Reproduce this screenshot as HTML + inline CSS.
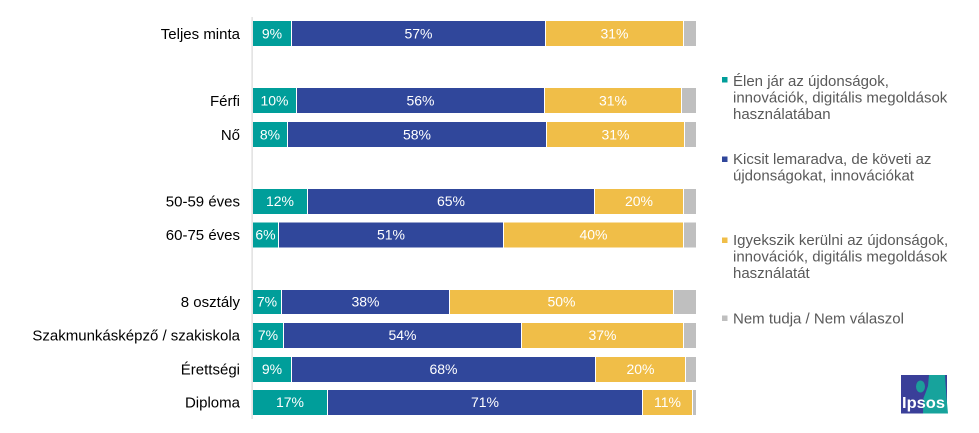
<!DOCTYPE html>
<html>
<head>
<meta charset="utf-8">
<style>
  html, body { margin: 0; padding: 0; background: #ffffff; }
  body { width: 979px; height: 433px; overflow: hidden; }
  svg { display: block; }
  .cat { font-family: "Liberation Sans", Arial, sans-serif; font-size: 15px; fill: #000000; }
  .val { font-family: "Liberation Sans", Arial, sans-serif; font-size: 14px; fill: #ffffff; }
  .leg { font-family: "Liberation Sans", Arial, sans-serif; font-size: 15px; fill: #595959; }
</style>
</head>
<body>
<svg width="979" height="433" viewBox="0 0 979 433" xmlns="http://www.w3.org/2000/svg">
  <rect x="0" y="0" width="979" height="433" fill="#ffffff"/>

  <!-- axis line -->
  <rect x="251.5" y="17" width="1.2" height="402" fill="#d9d9d9"/>

  <!-- Row 0: Teljes minta -->
  <g>
    <rect x="253" y="21" width="38" height="25" fill="#009e9a"/>
    <rect x="292" y="21" width="253" height="25" fill="#30479b"/>
    <rect x="546" y="21" width="137" height="25" fill="#f0be48"/>
    <rect x="684" y="21" width="12" height="25" fill="#bfbfbf"/>
    <text class="val" x="272" y="38.5" text-anchor="middle">9%</text>
    <text class="val" x="418.5" y="38.5" text-anchor="middle">57%</text>
    <text class="val" x="614.5" y="38.5" text-anchor="middle">31%</text>
    <text class="cat" x="240" y="39" text-anchor="end">Teljes minta</text>
  </g>

  <!-- Row 2: Férfi -->
  <g>
    <rect x="253" y="88" width="43" height="25" fill="#009e9a"/>
    <rect x="297" y="88" width="247" height="25" fill="#30479b"/>
    <rect x="545" y="88" width="136" height="25" fill="#f0be48"/>
    <rect x="682" y="88" width="14" height="25" fill="#bfbfbf"/>
    <text class="val" x="274.5" y="105.5" text-anchor="middle">10%</text>
    <text class="val" x="420.5" y="105.5" text-anchor="middle">56%</text>
    <text class="val" x="613" y="105.5" text-anchor="middle">31%</text>
    <text class="cat" x="240" y="106" text-anchor="end">Férfi</text>
  </g>

  <!-- Row 3: Nő -->
  <g>
    <rect x="253" y="122" width="34" height="25" fill="#009e9a"/>
    <rect x="288" y="122" width="258" height="25" fill="#30479b"/>
    <rect x="547" y="122" width="137" height="25" fill="#f0be48"/>
    <rect x="685" y="122" width="11" height="25" fill="#bfbfbf"/>
    <text class="val" x="270" y="139.5" text-anchor="middle">8%</text>
    <text class="val" x="417" y="139.5" text-anchor="middle">58%</text>
    <text class="val" x="615.5" y="139.5" text-anchor="middle">31%</text>
    <text class="cat" x="240" y="140" text-anchor="end">Nő</text>
  </g>

  <!-- Row 5: 50-59 éves -->
  <g>
    <rect x="253" y="189" width="54" height="25" fill="#009e9a"/>
    <rect x="308" y="189" width="286" height="25" fill="#30479b"/>
    <rect x="595" y="189" width="88" height="25" fill="#f0be48"/>
    <rect x="684" y="189" width="12" height="25" fill="#bfbfbf"/>
    <text class="val" x="280" y="206" text-anchor="middle">12%</text>
    <text class="val" x="451" y="206" text-anchor="middle">65%</text>
    <text class="val" x="639" y="206" text-anchor="middle">20%</text>
    <text class="cat" x="240" y="206.5" text-anchor="end">50-59 éves</text>
  </g>

  <!-- Row 6: 60-75 éves -->
  <g>
    <rect x="253" y="222.5" width="25" height="25" fill="#009e9a"/>
    <rect x="279" y="222.5" width="224" height="25" fill="#30479b"/>
    <rect x="504" y="222.5" width="179" height="25" fill="#f0be48"/>
    <rect x="684" y="222.5" width="12" height="25" fill="#bfbfbf"/>
    <text class="val" x="265.5" y="239.5" text-anchor="middle">6%</text>
    <text class="val" x="391" y="239.5" text-anchor="middle">51%</text>
    <text class="val" x="593.5" y="239.5" text-anchor="middle">40%</text>
    <text class="cat" x="240" y="240" text-anchor="end">60-75 éves</text>
  </g>

  <!-- Row 8: 8 osztály -->
  <g>
    <rect x="253" y="290" width="28" height="24" fill="#009e9a"/>
    <rect x="282" y="290" width="167" height="24" fill="#30479b"/>
    <rect x="450" y="290" width="223" height="24" fill="#f0be48"/>
    <rect x="674" y="290" width="22" height="24" fill="#bfbfbf"/>
    <text class="val" x="267" y="306.5" text-anchor="middle">7%</text>
    <text class="val" x="365.5" y="306.5" text-anchor="middle">38%</text>
    <text class="val" x="561.5" y="306.5" text-anchor="middle">50%</text>
    <text class="cat" x="240" y="307" text-anchor="end">8 osztály</text>
  </g>

  <!-- Row 9: Szakmunkásképző -->
  <g>
    <rect x="253" y="323" width="30" height="25" fill="#009e9a"/>
    <rect x="284" y="323" width="237" height="25" fill="#30479b"/>
    <rect x="522" y="323" width="161" height="25" fill="#f0be48"/>
    <rect x="684" y="323" width="12" height="25" fill="#bfbfbf"/>
    <text class="val" x="268" y="340" text-anchor="middle">7%</text>
    <text class="val" x="402.5" y="340" text-anchor="middle">54%</text>
    <text class="val" x="602.5" y="340" text-anchor="middle">37%</text>
    <text class="cat" x="240" y="340.5" text-anchor="end">Szakmunkásképző / szakiskola</text>
  </g>

  <!-- Row 10: Érettségi -->
  <g>
    <rect x="253" y="357" width="38" height="25" fill="#009e9a"/>
    <rect x="292" y="357" width="303" height="25" fill="#30479b"/>
    <rect x="596" y="357" width="89" height="25" fill="#f0be48"/>
    <rect x="686" y="357" width="10" height="25" fill="#bfbfbf"/>
    <text class="val" x="272" y="374" text-anchor="middle">9%</text>
    <text class="val" x="443.5" y="374" text-anchor="middle">68%</text>
    <text class="val" x="640.5" y="374" text-anchor="middle">20%</text>
    <text class="cat" x="240" y="374.5" text-anchor="end">Érettségi</text>
  </g>

  <!-- Row 11: Diploma -->
  <g>
    <rect x="253" y="390" width="74" height="25" fill="#009e9a"/>
    <rect x="328" y="390" width="314" height="25" fill="#30479b"/>
    <rect x="643" y="390" width="49" height="25" fill="#f0be48"/>
    <rect x="693" y="390" width="3" height="25" fill="#bfbfbf"/>
    <text class="val" x="290" y="407" text-anchor="middle">17%</text>
    <text class="val" x="485" y="407" text-anchor="middle">71%</text>
    <text class="val" x="667.5" y="407" text-anchor="middle">11%</text>
    <text class="cat" x="240" y="407.5" text-anchor="end">Diploma</text>
  </g>

  <!-- Legend -->
  <rect x="722" y="77" width="5.5" height="5.5" fill="#009e9a"/>
  <text class="leg" x="733" y="86">Élen jár az újdonságok,</text>
  <text class="leg" x="733" y="102.5">innovációk, digitális megoldások</text>
  <text class="leg" x="733" y="119">használatában</text>

  <rect x="722" y="156.5" width="5.5" height="5.5" fill="#30479b"/>
  <text class="leg" x="733" y="164">Kicsit lemaradva, de követi az</text>
  <text class="leg" x="733" y="180.5">újdonságokat, innovációkat</text>

  <rect x="722" y="237.5" width="5.5" height="5.5" fill="#f0be48"/>
  <text class="leg" x="733" y="245">Igyekszik kerülni az újdonságok,</text>
  <text class="leg" x="733" y="261.5">innovációk, digitális megoldások</text>
  <text class="leg" x="733" y="278">használatát</text>

  <rect x="722" y="315.5" width="5.5" height="5.5" fill="#bfbfbf"/>
  <text class="leg" x="733" y="323.5">Nem tudja / Nem válaszol</text>

  <!-- Ipsos logo -->
  <g>
    <rect x="901" y="375" width="46" height="38.5" fill="#3a3f99"/>
    <path d="M929 375 L945 375 Q946 394 948 413.5 L923 413.5 L923.5 398 Q926 392 928 386 Z" fill="#17a39c"/>
    <ellipse cx="920.5" cy="386.5" rx="4.5" ry="6" fill="#1c9e9a"/>
    <text x="923.5" y="408" text-anchor="middle" font-family="Liberation Sans, Arial, sans-serif" font-weight="bold" font-size="16" fill="#ffffff" textLength="43" lengthAdjust="spacingAndGlyphs">Ipsos</text>
  </g>
</svg>
</body>
</html>
